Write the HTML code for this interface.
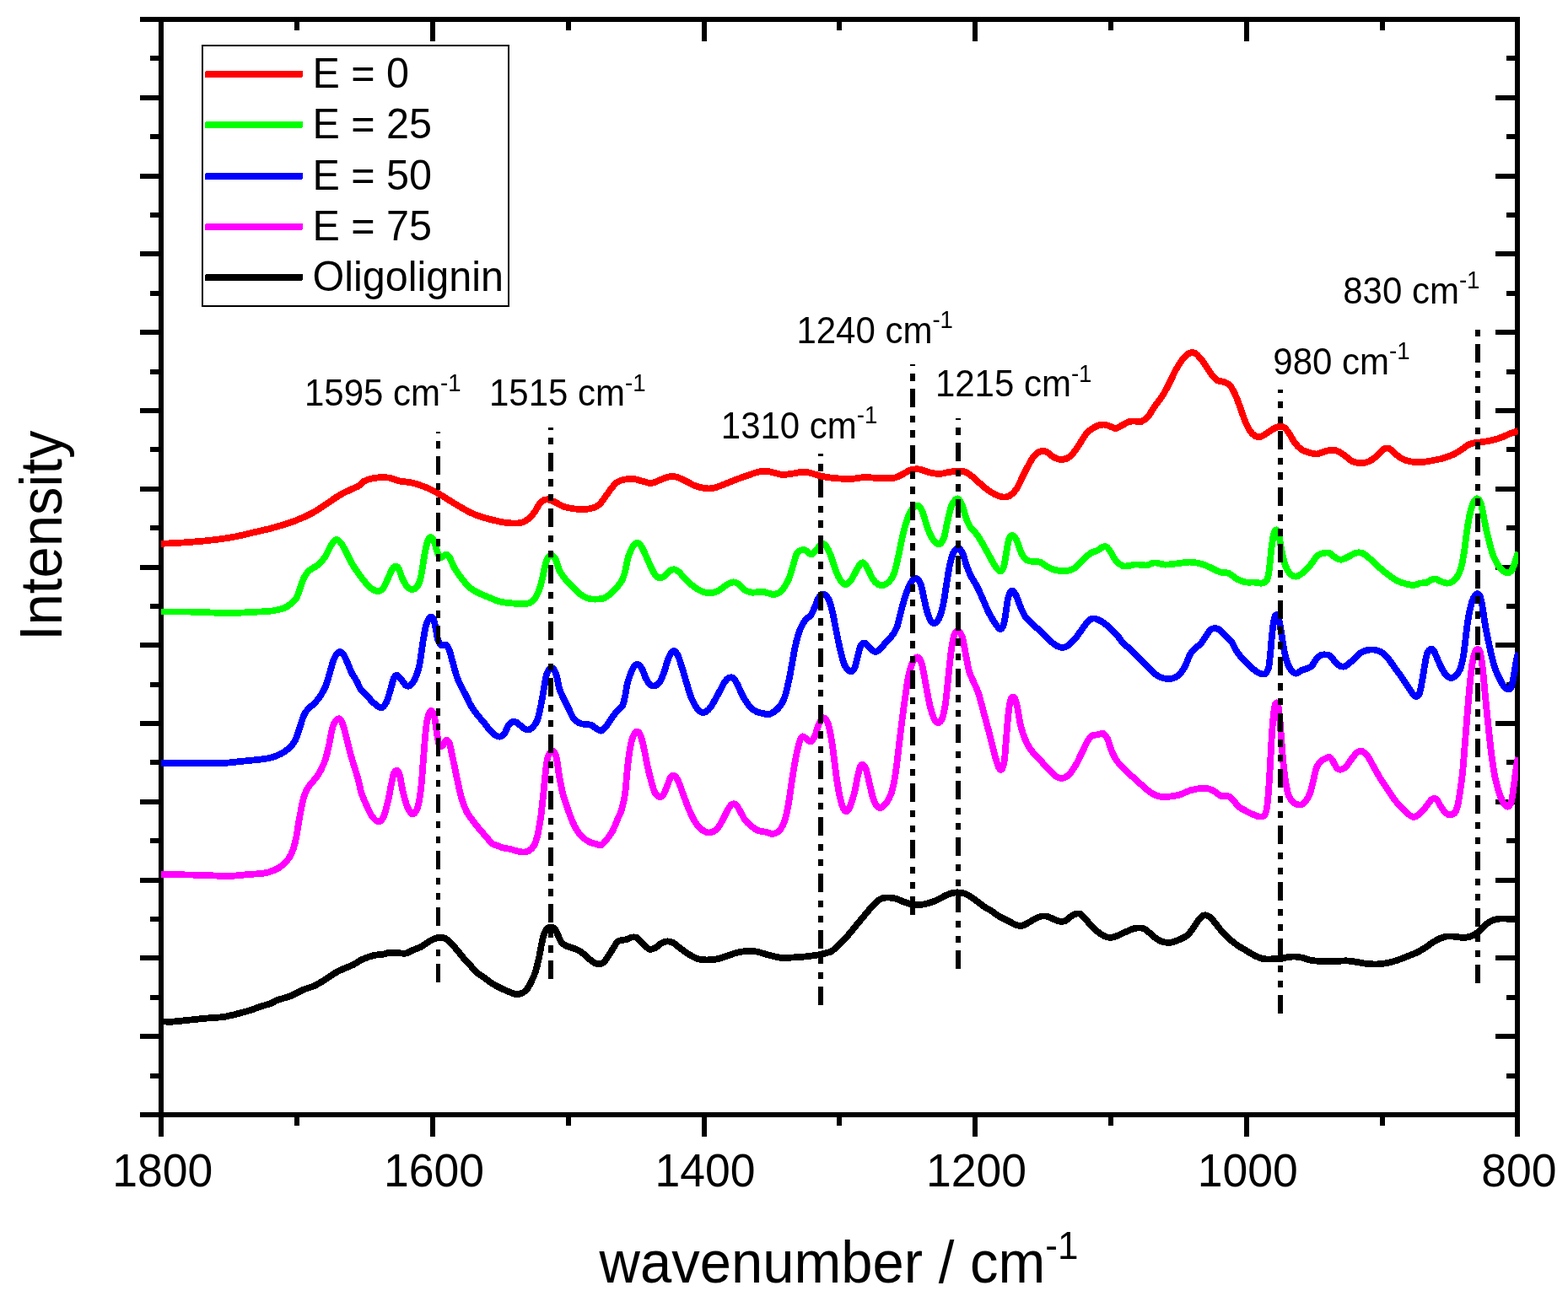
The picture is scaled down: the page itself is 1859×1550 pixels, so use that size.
<!DOCTYPE html>
<html lang="en">
<head>
<meta charset="utf-8">
<title>Raman spectra</title>
<style>
html,body{margin:0;padding:0;background:#fff;}
body{width:1859px;height:1550px;overflow:hidden;}
svg{display:block;}
text{font-family:"Liberation Sans",sans-serif;}
</style>
</head>
<body>
<svg width="1859" height="1550" viewBox="0 0 1859 1550" font-family="'Liberation Sans', sans-serif" fill="#000">
<g fill="#000" shape-rendering="crispEdges">
<rect x="166" y="20" width="1636" height="6"/>
<rect x="166" y="1319" width="1636" height="6"/>
<rect x="188" y="20" width="6" height="1328"/>
<rect x="1796" y="20" width="6" height="1328"/>
<rect x="349" y="1322" width="6" height="13"/>
<rect x="349" y="23" width="6" height="13"/>
<rect x="510" y="1322" width="6" height="26"/>
<rect x="510" y="23" width="6" height="26"/>
<rect x="671" y="1322" width="6" height="13"/>
<rect x="671" y="23" width="6" height="13"/>
<rect x="832" y="1322" width="6" height="26"/>
<rect x="832" y="23" width="6" height="26"/>
<rect x="992" y="1322" width="6" height="13"/>
<rect x="992" y="23" width="6" height="13"/>
<rect x="1153" y="1322" width="6" height="26"/>
<rect x="1153" y="23" width="6" height="26"/>
<rect x="1314" y="1322" width="6" height="13"/>
<rect x="1314" y="23" width="6" height="13"/>
<rect x="1475" y="1322" width="6" height="26"/>
<rect x="1475" y="23" width="6" height="26"/>
<rect x="1636" y="1322" width="6" height="13"/>
<rect x="1636" y="23" width="6" height="13"/>
<rect x="178" y="66" width="13" height="6"/>
<rect x="1786" y="66" width="13" height="6"/>
<rect x="166" y="113" width="25" height="6"/>
<rect x="1773" y="113" width="26" height="6"/>
<rect x="178" y="159" width="13" height="6"/>
<rect x="1786" y="159" width="13" height="6"/>
<rect x="166" y="206" width="25" height="6"/>
<rect x="1773" y="206" width="26" height="6"/>
<rect x="178" y="252" width="13" height="6"/>
<rect x="1786" y="252" width="13" height="6"/>
<rect x="166" y="298" width="25" height="6"/>
<rect x="1773" y="298" width="26" height="6"/>
<rect x="178" y="345" width="13" height="6"/>
<rect x="1786" y="345" width="13" height="6"/>
<rect x="166" y="391" width="25" height="6"/>
<rect x="1773" y="391" width="26" height="6"/>
<rect x="178" y="438" width="13" height="6"/>
<rect x="1786" y="438" width="13" height="6"/>
<rect x="166" y="484" width="25" height="6"/>
<rect x="1773" y="484" width="26" height="6"/>
<rect x="178" y="530" width="13" height="6"/>
<rect x="1786" y="530" width="13" height="6"/>
<rect x="166" y="577" width="25" height="6"/>
<rect x="1773" y="577" width="26" height="6"/>
<rect x="178" y="623" width="13" height="6"/>
<rect x="1786" y="623" width="13" height="6"/>
<rect x="166" y="670" width="25" height="6"/>
<rect x="1773" y="670" width="26" height="6"/>
<rect x="178" y="716" width="13" height="6"/>
<rect x="1786" y="716" width="13" height="6"/>
<rect x="166" y="762" width="25" height="6"/>
<rect x="1773" y="762" width="26" height="6"/>
<rect x="178" y="809" width="13" height="6"/>
<rect x="1786" y="809" width="13" height="6"/>
<rect x="166" y="855" width="25" height="6"/>
<rect x="1773" y="855" width="26" height="6"/>
<rect x="178" y="901" width="13" height="6"/>
<rect x="1786" y="901" width="13" height="6"/>
<rect x="166" y="948" width="25" height="6"/>
<rect x="1773" y="948" width="26" height="6"/>
<rect x="178" y="994" width="13" height="6"/>
<rect x="1786" y="994" width="13" height="6"/>
<rect x="166" y="1041" width="25" height="6"/>
<rect x="1773" y="1041" width="26" height="6"/>
<rect x="178" y="1087" width="13" height="6"/>
<rect x="1786" y="1087" width="13" height="6"/>
<rect x="166" y="1133" width="25" height="6"/>
<rect x="1773" y="1133" width="26" height="6"/>
<rect x="178" y="1180" width="13" height="6"/>
<rect x="1786" y="1180" width="13" height="6"/>
<rect x="166" y="1226" width="25" height="6"/>
<rect x="1773" y="1226" width="26" height="6"/>
<rect x="178" y="1273" width="13" height="6"/>
<rect x="1786" y="1273" width="13" height="6"/>
</g>
<defs><clipPath id="plot"><rect x="191" y="0" width="1609" height="1550"/></clipPath></defs>
<g fill="none" stroke-width="7.8" stroke-linejoin="round" stroke-linecap="butt" clip-path="url(#plot)" shape-rendering="crispEdges">
<path stroke="#000" d="M191 1211.4C193.3 1211.4 199.3 1211.9 205 1211.6C210.7 1211.3 218.3 1210.3 225 1209.6C231.7 1208.9 238.3 1208.2 245 1207.6C251.7 1207 259 1206.9 265 1206C271 1205.1 275.7 1203.7 281 1202.4C286.3 1201.1 292.3 1199.5 297 1198C301.7 1196.5 305 1194.9 309 1193.6C313 1192.3 317.7 1191.3 321 1190C324.3 1188.7 325 1187.5 329 1186C333 1184.5 340 1183 345 1181C350 1179 354.3 1176 359 1174C363.7 1172 368.7 1171 373 1169C377.3 1167 381 1164.5 385 1162C389 1159.5 393.3 1156.2 397 1154C400.7 1151.8 403.3 1150.7 407 1149C410.7 1147.3 415.3 1145.8 419 1144C422.7 1142.2 425 1139.8 429 1138C433 1136.2 439 1134 443 1133C447 1132 450 1132.5 453 1132C456 1131.5 458 1130.3 461 1130C464 1129.7 467.7 1129.9 471 1130C474.3 1130.1 478 1131.1 481 1130.6C484 1130.1 486 1128.3 489 1127C492 1125.7 496 1124.6 499 1123C502 1121.4 504.3 1119.2 507 1117.6C509.7 1116 512.5 1114.3 515 1113.4C517.5 1112.5 519.8 1112.1 522 1112C524.2 1111.9 525.8 1111.8 528 1113C530.2 1114.2 532.5 1116.5 535 1119C537.5 1121.5 540.3 1124.8 543 1128C545.7 1131.2 548.7 1135.3 551 1138C553.3 1140.7 554.5 1141.5 556.8 1144C559.1 1146.5 562 1150.3 565 1153C568 1155.7 572 1157.8 575 1160C578 1162.2 580 1164.1 583 1166C586 1167.9 589.7 1169.9 593 1171.6C596.3 1173.3 600 1174.8 603 1176C606 1177.2 608.7 1178.6 611 1179C613.3 1179.4 614.8 1179.4 617 1178.6C619.2 1177.8 621.8 1176.4 624 1174C626.2 1171.6 628.2 1167.7 630 1164C631.8 1160.3 633.5 1156.7 635 1152C636.5 1147.3 637.8 1141.3 639 1136C640.2 1130.7 641 1124.7 642 1120C643 1115.3 643.8 1111.2 645 1108C646.2 1104.8 647.5 1102.4 649 1101C650.5 1099.6 652.5 1099.4 654 1099.6C655.5 1099.8 656.7 1100.3 658 1102C659.3 1103.7 660.7 1107.3 662 1110C663.3 1112.7 664.3 1116 666 1118C667.7 1120 669.5 1120.8 672 1122C674.5 1123.2 678.2 1123.8 681 1125C683.8 1126.2 686.3 1127.2 689 1129C691.7 1130.8 694.3 1133.8 697 1136C699.7 1138.2 702.5 1140.8 705 1142C707.5 1143.2 710 1143.3 712 1143C714 1142.7 715.2 1142 717 1140C718.8 1138 721.2 1133.8 723 1131C724.8 1128.2 726.5 1125.3 728 1123C729.5 1120.7 730.5 1118.3 732 1117C733.5 1115.7 735.2 1115.5 737 1115C738.8 1114.5 741 1114.6 743 1114C745 1113.4 747 1111.9 749 1111.6C751 1111.3 753.2 1111.1 755 1112C756.8 1112.9 758.2 1115.2 760 1117C761.8 1118.8 764.2 1121.5 766 1123C767.8 1124.5 769.2 1125.8 771 1126C772.8 1126.2 774.8 1125.2 777 1124C779.2 1122.8 781.7 1119.9 784 1118.6C786.3 1117.3 788.7 1116.5 791 1116.4C793.3 1116.3 795.3 1116.6 798 1118C800.7 1119.4 803.8 1122.7 807 1125C810.2 1127.3 813.7 1130 817 1132C820.3 1134 823.7 1135.9 827 1137C830.3 1138.1 833.3 1138.3 837 1138.4C840.7 1138.5 845 1138.3 849 1137.6C853 1136.9 857 1135.3 861 1134C865 1132.7 869 1131 873 1130C877 1129 881 1128.2 885 1128C889 1127.8 893 1127.9 897 1128.6C901 1129.3 905 1130.9 909 1132C913 1133.1 917.7 1134.3 921 1135C924.3 1135.7 925.5 1135.9 928.8 1136C932.1 1136.1 936.6 1135.7 941 1135.4C945.4 1135.1 950.3 1134.9 955 1134.4C959.7 1133.9 965 1133.3 969 1132.6C973 1131.9 976.2 1131.2 979 1130.4C981.8 1129.6 983.7 1129.4 986 1128C988.3 1126.6 990.2 1124.7 993 1122C995.8 1119.3 999.7 1115.7 1003 1112C1006.3 1108.3 1009.7 1104 1013 1100C1016.3 1096 1019.7 1092 1023 1088C1026.3 1084 1030 1079.3 1033 1076C1036 1072.7 1038.7 1069.8 1041 1068C1043.3 1066.2 1044.7 1065.6 1047 1065C1049.3 1064.4 1052.3 1064.4 1055 1064.6C1057.7 1064.8 1060.3 1065.2 1063 1066C1065.7 1066.8 1068 1068.3 1071 1069.4C1074 1070.5 1077.7 1071.8 1081 1072.4C1084.3 1073 1087.7 1073.2 1091 1073C1094.3 1072.8 1097.7 1071.9 1101 1071C1104.3 1070.1 1107.7 1068.9 1111 1067.4C1114.3 1065.9 1118 1063.4 1121 1062C1124 1060.6 1126.5 1059.6 1129 1059C1131.5 1058.4 1133.7 1058.3 1136 1058.4C1138.3 1058.5 1140.5 1058.5 1143 1059.4C1145.5 1060.3 1148.3 1061.9 1151 1063.6C1153.7 1065.3 1156.3 1067.4 1159 1069.4C1161.7 1071.4 1164.3 1073.6 1167 1075.4C1169.7 1077.2 1172 1078.1 1175 1080C1178 1081.9 1181.7 1085 1185 1087C1188.3 1089 1191.7 1090.3 1195 1092C1198.3 1093.7 1202.3 1096 1205 1097C1207.7 1098 1208.8 1098.3 1211 1098C1213.2 1097.7 1215.3 1096.4 1218 1095C1220.7 1093.6 1224.2 1091 1227 1089.6C1229.8 1088.2 1232.5 1087 1235 1086.6C1237.5 1086.2 1239.7 1086.4 1242 1087C1244.3 1087.6 1246.7 1089.1 1249 1090C1251.3 1090.9 1253.7 1092.3 1256 1092.6C1258.3 1092.9 1260.8 1092.9 1263 1092C1265.2 1091.1 1267 1088.7 1269 1087.4C1271 1086.1 1273 1084.6 1275 1084C1277 1083.4 1279 1083 1281 1084C1283 1085 1285 1087.8 1287 1090C1289 1092.2 1290.7 1094.6 1293 1097C1295.3 1099.4 1298.1 1102.2 1300.8 1104.4C1303.5 1106.6 1306.3 1108.7 1309 1110C1311.7 1111.3 1314.3 1112.1 1317 1112C1319.7 1111.9 1322 1110.8 1325 1109.6C1328 1108.4 1331.7 1106.4 1335 1105C1338.3 1103.6 1342 1101.7 1345 1101C1348 1100.3 1350.7 1100.3 1353 1100.6C1355.3 1100.9 1356.7 1101.4 1359 1103C1361.3 1104.6 1364.2 1107.8 1367 1110C1369.8 1112.2 1373 1114.7 1376 1116C1379 1117.3 1382.2 1117.9 1385 1118C1387.8 1118.1 1390.3 1117.2 1393 1116.4C1395.7 1115.6 1398.5 1114.2 1401 1113C1403.5 1111.8 1405.7 1111.2 1408 1109C1410.3 1106.8 1412.8 1103 1415 1100C1417.2 1097 1419.2 1093.3 1421 1091C1422.8 1088.7 1424.5 1086.9 1426 1086C1427.5 1085.1 1428.5 1085.1 1430 1085.4C1431.5 1085.7 1433.2 1086.4 1435 1088C1436.8 1089.6 1438.7 1092.2 1441 1095C1443.3 1097.8 1446.3 1102 1449 1105C1451.7 1108 1454 1110.3 1457 1113C1460 1115.7 1463.7 1118.7 1467 1121C1470.3 1123.3 1473.7 1125 1477 1127C1480.3 1129 1483.7 1131.3 1487 1133C1490.3 1134.7 1493.7 1136.3 1497 1137C1500.3 1137.7 1503.5 1137.4 1507 1137.4C1510.5 1137.4 1514.7 1137.4 1518 1137C1521.3 1136.6 1524 1135.4 1527 1135C1530 1134.6 1533 1134.4 1536 1134.6C1539 1134.8 1541.8 1135.3 1545 1136C1548.2 1136.7 1551 1138.3 1555 1139C1559 1139.7 1564.3 1139.8 1569 1140C1573.7 1140.2 1578.3 1140.1 1583 1140C1587.7 1139.9 1592.7 1139.2 1597 1139.4C1601.3 1139.6 1605 1140.4 1609 1141C1613 1141.6 1617 1142.6 1621 1143C1625 1143.4 1629 1143.6 1633 1143.4C1637 1143.2 1641 1142.8 1645 1142C1649 1141.2 1653 1139.9 1657 1138.6C1661 1137.3 1665 1135.6 1669 1134C1673 1132.4 1677.3 1130.8 1681 1129C1684.7 1127.2 1688 1124.9 1691 1123C1694 1121.1 1696.3 1119.1 1699 1117.4C1701.7 1115.7 1704.3 1114.1 1707 1113C1709.7 1111.9 1712.3 1111 1715 1110.6C1717.7 1110.2 1720.3 1110.4 1723 1110.6C1725.7 1110.8 1728.3 1111.4 1731 1111.6C1733.7 1111.8 1736.3 1112 1739 1111.6C1741.7 1111.2 1744.7 1110.1 1747 1109C1749.3 1107.9 1750.8 1106.8 1753 1105C1755.2 1103.2 1757.7 1100.1 1760 1098C1762.3 1095.9 1764.5 1093.9 1767 1092.6C1769.5 1091.3 1772.3 1090.5 1775 1090C1777.7 1089.5 1780.3 1089.4 1783 1089.4C1785.7 1089.4 1788.2 1090 1791 1090C1793.8 1090 1798.5 1089.5 1800 1089.4"/>
<path stroke="#f0f" d="M191 1036.6C195.7 1036.7 210 1037.2 219 1037.4C228 1037.6 236.3 1037.7 245 1038C253.7 1038.3 262.7 1039.2 271 1039C279.3 1038.8 288 1037.6 295 1037C302 1036.4 308 1036.4 313 1035.6C318 1034.8 321.3 1033.6 325 1032C328.7 1030.4 332 1028.5 335 1026C338 1023.5 340.8 1020.3 343 1017C345.2 1013.7 346.6 1010.2 348 1006C349.4 1001.8 350.4 997 351.4 992C352.4 987 353.1 981.3 354 976C354.9 970.7 356 965 357 960C358 955 358.8 950 360 946C361.2 942 362.5 938.8 364 936C365.5 933.2 367.2 931.3 369 929C370.8 926.7 373 924.8 375 922C377 919.2 379.2 915.7 381 912C382.8 908.3 384.5 904.7 386 900C387.5 895.3 388.8 889.3 390 884C391.2 878.7 392 872.3 393 868C394 863.7 394.8 860.5 396 858C397.2 855.5 398.7 853.7 400 853C401.3 852.3 402.7 851.8 404 853.6C405.3 855.4 406.7 859.6 408 864C409.3 868.4 410.7 874.7 412 880C413.3 885.3 414.5 890.7 416 896C417.5 901.3 419.5 907 421 912C422.5 917 423.7 921 425 926C426.3 931 427.3 937 429 942C430.7 947 433 951.7 435 956C437 960.3 438.7 964.9 441 968C443.3 971.1 446.7 974.4 449 974.4C451.3 974.4 453.2 972.1 455 968C456.8 963.9 458.5 956.3 460 950C461.5 943.7 462.8 935.5 464 930C465.2 924.5 465.8 919.7 467 917C468.2 914.3 469.8 913.5 471 914C472.2 914.5 472.8 915.7 474 920C475.2 924.3 476.5 933.8 478 940C479.5 946.2 481.2 952.8 483 957C484.8 961.2 487 965.2 489 965.4C491 965.6 493.3 962.9 495 958C496.7 953.1 497.8 945.7 499 936C500.2 926.3 501 912 502 900C503 888 504 872.7 505 864C506 855.3 506.9 851.5 508 848C509.1 844.5 510.2 842.7 511.4 843C512.6 843.3 513.9 845.5 515 850C516.1 854.5 517 864.3 518 870C519 875.7 519.8 881.7 521 884C522.2 886.3 523.7 885 525 884C526.3 883 527.7 878.3 529 878C530.3 877.7 531.7 878.3 533 882C534.3 885.7 535.5 893 537 900C538.5 907 540.3 916.3 542 924C543.7 931.7 545.2 939.7 547 946C548.8 952.3 550.7 957.3 553 962C555.3 966.7 558.3 970.3 561 974C563.7 977.7 566.3 980.8 569 984C571.7 987.2 574.7 990.3 577 993C579.3 995.7 580.8 998.3 583 1000C585.2 1001.7 587.7 1002.1 590 1003C592.3 1003.9 594.5 1004.9 597 1005.6C599.5 1006.3 602.3 1006.4 605 1007C607.7 1007.6 610.3 1008.8 613 1009.4C615.7 1010 618.7 1010.7 621 1010.6C623.3 1010.5 625 1010.3 627 1009C629 1007.7 631.3 1005.8 633 1003C634.7 1000.2 635.7 997.5 637 992C638.3 986.5 639.8 978 641 970C642.2 962 643 953.3 644 944C645 934.7 646.1 921.7 647 914C647.9 906.3 648.4 901.7 649.4 898C650.4 894.3 651.7 893.1 653 892C654.3 890.9 655.8 890.3 657 891.6C658.2 892.9 659 895.3 660 900C661 904.7 661.8 913.3 663 920C664.2 926.7 665.5 934 667 940C668.5 946 670.3 951 672 956C673.7 961 675.2 965.5 677 970C678.8 974.5 680.7 979.2 683 983C685.3 986.8 688.3 990.4 691 993C693.7 995.6 696.3 997.3 699 998.6C701.7 999.9 704.7 1000.4 707 1001C709.3 1001.6 711 1002.8 713 1002C715 1001.2 716.8 998.7 719 996C721.2 993.3 723.8 990 726 986C728.2 982 730.2 976.3 732 972C733.8 967.7 735.5 965 737 960C738.5 955 739.9 949.3 741 942C742.1 934.7 742.6 924 743.4 916C744.2 908 745.1 900.3 746 894C746.9 887.7 747.9 882.1 749 878C750.1 873.9 751.3 871.3 752.6 869.6C753.9 867.9 755.4 867.3 756.6 868C757.8 868.7 758.8 870.3 760 874C761.2 877.7 762.7 884 764 890C765.3 896 766.7 904 768 910C769.3 916 770.7 921.2 772 926C773.3 930.8 774.5 935.9 776 939C777.5 942.1 779.3 943.9 781 944.6C782.7 945.3 784.3 945.1 786 943C787.7 940.9 789.5 935.5 791 932C792.5 928.5 793.6 924 795 922C796.4 920 797.9 919.3 799.4 920C800.9 920.7 802.2 922.3 804 926C805.8 929.7 808 936.7 810 942C812 947.3 813.8 952.8 816 958C818.2 963.2 820.5 968.8 823 973C825.5 977.2 828.2 980.6 831 983C833.8 985.4 837 987.2 840 987.4C843 987.6 846.3 986.2 849 984C851.7 981.8 853.8 977.7 856 974C858.2 970.3 860.2 965.3 862 962C863.8 958.7 865.3 955.7 867 954.4C868.7 953.1 870.3 952.9 872 954C873.7 955.1 875.2 958 877 961C878.8 964 880.7 968.8 883 972C885.3 975.2 888.3 977.8 891 980C893.7 982.2 896 983.8 899 985C902 986.2 906.1 986.3 909 987C911.9 987.7 913.8 989.5 916.5 989C919.2 988.5 922.6 986.9 925 983.9C927.4 980.9 929.3 976.6 931 971C932.7 965.4 933.9 958 935.3 950.3C936.6 942.5 937.8 932.7 939.1 924.5C940.4 916.3 941.7 908.2 943 901.3C944.3 894.4 945.6 887.8 946.9 883.2C948.2 878.6 949.5 874.8 951 873.6C952.5 872.4 954.3 875 956 876C957.7 877 959.3 880.1 961 879.6C962.7 879.1 964.5 876.1 966 873C967.5 869.9 968.7 864.3 970 861C971.3 857.7 972.7 854.5 974 853C975.3 851.5 976.7 851 978 852C979.3 853 980.7 854.7 982 859C983.3 863.3 984.8 871.2 986 878C987.2 884.8 988 892.3 989 900C990 907.7 990.8 916.3 992 924C993.2 931.7 994.7 940.2 996 946C997.3 951.8 998.7 956.3 1000 959C1001.3 961.7 1002.7 962.5 1004 962C1005.3 961.5 1006.5 959.7 1008 956C1009.5 952.3 1011.5 946 1013 940C1014.5 934 1015.8 925.2 1017 920C1018.2 914.8 1019 911.2 1020 909C1021 906.8 1021.8 906.3 1023 907C1024.2 907.7 1025.7 909.2 1027 913C1028.3 916.8 1029.7 924.5 1031 930C1032.3 935.5 1033.7 941.8 1035 946C1036.3 950.2 1037.5 953 1039 955C1040.5 957 1042 958.5 1044 958C1046 957.5 1048.8 955 1051 952C1053.2 949 1055.3 945 1057 940C1058.7 935 1059.8 928.7 1061 922C1062.2 915.3 1063 908 1064 900C1065 892 1066 882.3 1067 874C1068 865.7 1069 857.7 1070 850C1071 842.3 1071.8 836 1073 828C1074.2 820 1075.7 808.7 1077 802C1078.3 795.3 1079.7 791.5 1081 788C1082.3 784.5 1083.7 782.3 1085 781C1086.3 779.7 1087.7 778.8 1089 780C1090.3 781.2 1091.7 783.3 1093 788C1094.3 792.7 1095.7 801 1097 808C1098.3 815 1099.7 823.7 1101 830C1102.3 836.3 1103.7 841.8 1105 846C1106.3 850.2 1107.7 853.2 1109 855C1110.3 856.8 1111.7 857.5 1113 857C1114.3 856.5 1115.7 855.8 1117 852C1118.3 848.2 1119.8 841.7 1121 834C1122.2 826.3 1123 815.3 1124 806C1125 796.7 1126 786 1127 778C1128 770 1129 762.7 1130 758C1131 753.3 1131.8 751.5 1133 750C1134.2 748.5 1135.7 748 1137 749C1138.3 750 1139.7 751.5 1141 756C1142.3 760.5 1143.7 769.3 1145 776C1146.3 782.7 1147.5 790.7 1149 796C1150.5 801.3 1152.2 803.7 1154 808C1155.8 812.3 1158 816 1160 822C1162 828 1163.8 836 1166 844C1168.2 852 1170.8 861.7 1173 870C1175.2 878.3 1177.2 887.3 1179 894C1180.8 900.7 1182.5 907 1184 910C1185.5 913 1186.8 913.7 1188 912C1189.2 910.3 1190.2 906 1191 900C1191.8 894 1192.2 885.7 1193 876C1193.8 866.3 1195 850 1196 842C1197 834 1197.8 830.3 1199 828C1200.2 825.7 1201.8 826.3 1203 828C1204.2 829.7 1204.8 832.7 1206 838C1207.2 843.3 1208.5 853.7 1210 860C1211.5 866.3 1213 871.2 1215 876C1217 880.8 1219.3 885.2 1222 889C1224.7 892.8 1227.8 895.5 1231 899C1234.2 902.5 1237.7 906.5 1241 910C1244.3 913.5 1248 917.8 1251 920C1254 922.2 1256.3 923.2 1259 923C1261.7 922.8 1264.3 921.5 1267 919C1269.7 916.5 1272.3 912.5 1275 908C1277.7 903.5 1280.5 897 1283 892C1285.5 887 1288 881.3 1290 878C1292 874.7 1293.2 873.5 1295 872.4C1296.8 871.3 1298.6 871.8 1300.8 871.4C1303 871 1306 869.2 1308 870C1310 870.8 1311.5 873 1313 876C1314.5 879 1315.5 884.2 1317 888C1318.5 891.8 1320.2 895.8 1322 899C1323.8 902.2 1325.5 904.2 1328 907C1330.5 909.8 1333.8 913 1337 916C1340.2 919 1343.7 922 1347 925C1350.3 928 1353.7 931.2 1357 934C1360.3 936.8 1363.7 939.8 1367 941.6C1370.3 943.4 1373.7 944.5 1377 945C1380.3 945.5 1383.3 945 1387 944.6C1390.7 944.2 1395 943.6 1399 942.4C1403 941.2 1407 938.6 1411 937.4C1415 936.2 1419.7 935.4 1423 935C1426.3 934.6 1428.3 934.5 1431 935C1433.7 935.5 1436.2 936.5 1439 938C1441.8 939.5 1445 942.9 1448 944C1451 945.1 1454.5 943.4 1457 944.4C1459.5 945.4 1461 947.9 1463 950C1465 952.1 1466.7 955.1 1469 957C1471.3 958.9 1474.3 960.2 1477 961.6C1479.7 963 1482.3 964.5 1485 965.6C1487.7 966.7 1490.7 968.2 1493 968.4C1495.3 968.6 1497.5 968.7 1499 967C1500.5 965.3 1501.2 962.8 1502 958C1502.8 953.2 1503.3 946.7 1504 938C1504.7 929.3 1505.3 917.3 1506 906C1506.7 894.7 1507.3 880 1508 870C1508.7 860 1509.3 851.8 1510 846C1510.7 840.2 1511.2 836.8 1512 835C1512.8 833.2 1514.2 832.5 1515 835C1515.8 837.5 1516.3 843.5 1517 850C1517.7 856.5 1518.3 865.7 1519 874C1519.7 882.3 1520.2 891.3 1521 900C1521.8 908.7 1522.8 918.7 1524 926C1525.2 933.3 1526.3 939.7 1528 944C1529.7 948.3 1531.7 950.3 1534 952C1536.3 953.7 1539.7 954.7 1542 954.4C1544.3 954.1 1546.2 952.2 1548 950C1549.8 947.8 1551.5 945 1553 941C1554.5 937 1555.7 931.2 1557 926C1558.3 920.8 1559.5 913.8 1561 910C1562.5 906.2 1564.3 904.7 1566 903C1567.7 901.3 1569.3 900.4 1571 899.6C1572.7 898.8 1574.5 897.6 1576 898C1577.5 898.4 1578.5 899.8 1580 902C1581.5 904.2 1583.3 909.2 1585 911C1586.7 912.8 1588.2 912.9 1590 912.6C1591.8 912.3 1593.7 911.4 1596 909C1598.3 906.6 1601.7 900.9 1604 898C1606.3 895.1 1608.2 892.8 1610 891.6C1611.8 890.4 1613.2 890.3 1615 891C1616.8 891.7 1618.7 892.8 1621 896C1623.3 899.2 1626.3 905.3 1629 910C1631.7 914.7 1634.3 919.7 1637 924C1639.7 928.3 1642.3 932 1645 936C1647.7 940 1650.3 944.5 1653 948C1655.7 951.5 1658.3 954.2 1661 957C1663.7 959.8 1666.5 963 1669 965C1671.5 967 1673.8 968.8 1676 969C1678.2 969.2 1679.8 967.7 1682 966C1684.2 964.3 1687 961.3 1689 959C1691 956.7 1692.5 953.9 1694 952C1695.5 950.1 1696.5 948.3 1698 947.6C1699.5 946.9 1701.3 946.6 1703 948C1704.7 949.4 1706.2 953.3 1708 956C1709.8 958.7 1712 962.3 1714 964C1716 965.7 1718 966.7 1720 966.4C1722 966.1 1724.3 965.4 1726 962C1727.7 958.6 1728.7 953.7 1730 946C1731.3 938.3 1732.8 927 1734 916C1735.2 905 1736 892.3 1737 880C1738 867.7 1739 854 1740 842C1741 830 1742 817.7 1743 808C1744 798.3 1745 789.8 1746 784C1747 778.2 1748 775.3 1749 773C1750 770.7 1751 769.8 1752 770C1753 770.2 1754 770 1755 774C1756 778 1757 785.3 1758 794C1759 802.7 1759.8 814 1761 826C1762.2 838 1763.7 853.7 1765 866C1766.3 878.3 1767.7 890.3 1769 900C1770.3 909.7 1771.5 917 1773 924C1774.5 931 1776.3 937.2 1778 942C1779.7 946.8 1781.3 950.6 1783 953C1784.7 955.4 1786.5 957.1 1788 956.6C1789.5 956.1 1790.8 954.4 1792 950C1793.2 945.6 1794 937 1795 930C1796 923 1797.2 913.3 1798 908C1798.8 902.7 1799.7 899.7 1800 898"/>
<path stroke="#00f" d="M191 905C195 905.1 206 905.4 215 905.4C224 905.4 236.7 905.1 245 905C253.3 904.9 258.3 905.3 265 905C271.7 904.7 278.3 903.7 285 903C291.7 902.3 299 901.7 305 901C311 900.3 316.3 899.8 321 898.6C325.7 897.4 329.3 895.9 333 894C336.7 892.1 340.2 889.7 343 887C345.8 884.3 348 881.8 350 878C352 874.2 353.3 868.8 355 864C356.7 859.2 358.3 852.8 360 849C361.7 845.2 362.8 843.5 365 841C367.2 838.5 370.5 836.7 373 834C375.5 831.3 377.8 828.3 380 825C382.2 821.7 384.2 818.5 386 814C387.8 809.5 389.5 803 391 798C392.5 793 393.7 787.7 395 784C396.3 780.3 397.7 777.8 399 776C400.3 774.2 401.7 773 403 773C404.3 773 405.5 773.8 407 776C408.5 778.2 410.3 782.3 412 786C413.7 789.7 415.2 794.3 417 798C418.8 801.7 421.2 804.7 423 808C424.8 811.3 426 815.2 428 818C430 820.8 432.5 822.4 435 825C437.5 827.6 440.2 831.2 443 833.6C445.8 836 449.5 839.5 452 839.4C454.5 839.3 456.2 836.6 458 833C459.8 829.4 461.5 822.8 463 818C464.5 813.2 465.7 806.8 467 804C468.3 801.2 469.5 800.7 471 801C472.5 801.3 474.3 804.1 476 806C477.7 807.9 479.3 811.4 481 812.6C482.7 813.8 484.2 814.3 486 813C487.8 811.7 490.2 808.8 492 805C493.8 801.2 495.5 796.8 497 790C498.5 783.2 499.7 772 501 764C502.3 756 503.7 747.2 505 742C506.3 736.8 507.7 734.6 509 733C510.3 731.4 511.8 730.9 513 732.4C514.2 733.9 515 737.7 516 742C517 746.3 517.8 754.2 519 758C520.2 761.8 521.3 763.8 523 765C524.7 766.2 527.3 763.8 529 765C530.7 766.2 531.5 767.8 533 772C534.5 776.2 536.3 784.3 538 790C539.7 795.7 540.5 800 543 806C545.5 812 550.3 820.7 553 826C555.7 831.3 556.7 834.2 559 838C561.3 841.8 564.7 846 567 849C569.3 852 570.8 853.3 573 856C575.2 858.7 577.7 862.4 580 865C582.3 867.6 584.8 870.2 587 871.6C589.2 873 591.2 873.9 593 873.6C594.8 873.3 596.3 872.3 598 870C599.7 867.7 601.3 862.3 603 860C604.7 857.7 606.3 856.5 608 856C609.7 855.5 611 855.8 613 857C615 858.2 617.8 861.6 620 863C622.2 864.4 624 865.8 626 865.6C628 865.4 630.2 863.9 632 862C633.8 860.1 635.5 858 637 854C638.5 850 639.7 844.3 641 838C642.3 831.7 643.8 822.3 645 816C646.2 809.7 646.8 803.8 648 800C649.2 796.2 650.7 794.2 652 793C653.3 791.8 654.7 791.5 656 793C657.3 794.5 658.8 798.2 660 802C661.2 805.8 661.7 811.7 663 816C664.3 820.3 666.2 824 668 828C669.8 832 672 836 674 840C676 844 677.8 849.1 680 852C682.2 854.9 684.5 856.4 687 857.6C689.5 858.8 692.7 858.6 695 859C697.3 859.4 699 859.2 701 860C703 860.8 705 862.9 707 864C709 865.1 711 867.1 713 866.6C715 866.1 716.7 863.9 719 861C721.3 858.1 724.7 852.2 727 849C729.3 845.8 731.2 844 733 842C734.8 840 736.7 839.7 738 837C739.3 834.3 740 830.5 741 826C742 821.5 742.8 814.7 744 810C745.2 805.3 746.7 801.3 748 798C749.3 794.7 750.7 791.7 752 790C753.3 788.3 754.5 787.5 756 788C757.5 788.5 759.3 790.2 761 793C762.7 795.8 764.3 801.8 766 805C767.7 808.2 769.3 810.6 771 812C772.7 813.4 774.2 813.9 776 813.4C777.8 812.9 780.2 811.6 782 809C783.8 806.4 785.3 802.5 787 798C788.7 793.5 790.5 786 792 782C793.5 778 794.7 775.6 796 774C797.3 772.4 798.7 771.7 800 772.4C801.3 773.1 802.5 774.6 804 778C805.5 781.4 807.3 787.7 809 793C810.7 798.3 812.3 804.5 814 810C815.7 815.5 817.2 821.3 819 826C820.8 830.7 823 834.9 825 838C827 841.1 829 843.4 831 844.4C833 845.4 835 845.1 837 844C839 842.9 840.7 841.3 843 838C845.3 834.7 848.3 828.8 851 824C853.7 819.2 856.8 812.3 859 809C861.2 805.7 862.3 804.8 864 804C865.7 803.2 867.3 802.8 869 804C870.7 805.2 872 807.3 874 811C876 814.7 878.5 821.5 881 826C883.5 830.5 886.3 835 889 838C891.7 841 894.3 842.7 897 844C899.7 845.3 902.4 845.5 905 846C907.6 846.5 909.5 848.2 912.6 847C915.7 845.8 920.5 842.4 923.5 839C926.5 835.6 928.4 832 930.4 826.5C932.4 821 934 812.7 935.5 805.8C937 798.9 938.1 791.9 939.4 785C940.7 778.1 941.8 770.9 943.3 764.5C944.8 758.1 946.5 751.4 948.5 746.5C950.5 741.6 952.9 737.8 955 735C957.1 732.2 959.2 732.5 961 730C962.8 727.5 964.5 723.3 966 720C967.5 716.7 968.7 712.5 970 710C971.3 707.5 972.6 705.7 974 705C975.4 704.3 977.1 704.4 978.6 705.6C980.1 706.8 981.6 708.6 983 712C984.4 715.4 985.7 720.3 987 726C988.3 731.7 989.5 738.7 991 746C992.5 753.3 994.3 763 996 770C997.7 777 999.3 783.8 1001 788C1002.7 792.2 1004.5 793.7 1006 795C1007.5 796.3 1008.7 796.8 1010 796C1011.3 795.2 1012.7 793.7 1014 790C1015.3 786.3 1016.8 778.2 1018 774C1019.2 769.8 1019.7 766.8 1021 765C1022.3 763.2 1024.2 762.3 1026 763C1027.8 763.7 1030 767.3 1032 769C1034 770.7 1036 773 1038 773C1040 773 1041.8 771 1044 769C1046.2 767 1048.5 763.8 1051 761C1053.5 758.2 1056.8 755.2 1059 752C1061.2 748.8 1062.5 746.3 1064 742C1065.5 737.7 1066.5 731.7 1068 726C1069.5 720.3 1071.3 713.2 1073 708C1074.7 702.8 1076.3 698.5 1078 695C1079.7 691.5 1081.3 688.3 1083 687C1084.7 685.7 1086.5 685.8 1088 687C1089.5 688.2 1090.7 689.8 1092 694C1093.3 698.2 1094.7 706.3 1096 712C1097.3 717.7 1098.7 723.8 1100 728C1101.3 732.2 1102.7 735.2 1104 737C1105.3 738.8 1106.5 739.5 1108 739C1109.5 738.5 1111.3 737.5 1113 734C1114.7 730.5 1116.5 724.7 1118 718C1119.5 711.3 1120.7 702 1122 694C1123.3 686 1124.7 676.3 1126 670C1127.3 663.7 1128.7 659.2 1130 656C1131.3 652.8 1132.7 651.8 1134 651C1135.3 650.2 1136.7 649.8 1138 651C1139.3 652.2 1140.7 654.7 1142 658C1143.3 661.3 1144.5 666.8 1146 671C1147.5 675.2 1149 679 1151 683C1153 687 1155.7 690.5 1158 695C1160.3 699.5 1162.7 704.8 1165 710C1167.3 715.2 1169.7 721.3 1172 726C1174.3 730.7 1176.8 734.7 1179 738C1181.2 741.3 1183.3 744.8 1185 745.6C1186.7 746.4 1187.8 745.6 1189 743C1190.2 740.4 1191 735.5 1192 730C1193 724.5 1194 714.7 1195 710C1196 705.3 1197 703.5 1198 702C1199 700.5 1199.8 700.2 1201 701C1202.2 701.8 1203.5 703.8 1205 707C1206.5 710.2 1208.2 715.8 1210 720C1211.8 724.2 1213.5 728.5 1216 732C1218.5 735.5 1221.8 738 1225 741C1228.2 744 1231.7 746.8 1235 750C1238.3 753.2 1242 757.3 1245 760C1248 762.7 1250.5 764.7 1253 766C1255.5 767.3 1257.7 768.2 1260 768C1262.3 767.8 1264.5 766.8 1267 765C1269.5 763.2 1272.3 760.2 1275 757C1277.7 753.8 1280.5 749.3 1283 746C1285.5 742.7 1288 739.1 1290 737C1292 734.9 1293.2 734 1295 733.6C1296.8 733.2 1298.5 733.5 1300.8 734.4C1303.1 735.3 1306.3 737.1 1309 739C1311.7 740.9 1314.3 743.5 1317 746C1319.7 748.5 1322.7 751.3 1325 754C1327.3 756.7 1328.3 759.2 1331 762C1333.7 764.8 1337.7 767.8 1341 771C1344.3 774.2 1347.7 777.7 1351 781C1354.3 784.3 1358 788 1361 791C1364 794 1366.3 796.9 1369 799C1371.7 801.1 1374.3 802.6 1377 803.6C1379.7 804.6 1382.3 805 1385 805C1387.7 805 1390.5 804.8 1393 803.6C1395.5 802.4 1397.8 800.6 1400 798C1402.2 795.4 1404.2 791.7 1406 788C1407.8 784.3 1409.2 779.2 1411 776C1412.8 772.8 1414.8 771.2 1417 769C1419.2 766.8 1421.8 765.5 1424 763C1426.2 760.5 1428.2 756.7 1430 754C1431.8 751.3 1433.3 748.5 1435 747C1436.7 745.5 1438.2 745 1440 745C1441.8 745 1443.8 745.5 1446 747C1448.2 748.5 1450.7 751.7 1453 754C1455.3 756.3 1457.8 758 1460 761C1462.2 764 1463.8 768.7 1466 772C1468.2 775.3 1470.5 778.2 1473 781C1475.5 783.8 1478.3 786.5 1481 789C1483.7 791.5 1486.7 794.3 1489 796C1491.3 797.7 1493.2 798.5 1495 799C1496.8 799.5 1498.5 800.2 1500 799C1501.5 797.8 1503 795.8 1504 792C1505 788.2 1505.3 782.3 1506 776C1506.7 769.7 1507.3 760.5 1508 754C1508.7 747.5 1509.3 741 1510 737C1510.7 733 1511.2 731.2 1512 730C1512.8 728.8 1514.2 728.7 1515 730C1515.8 731.3 1516.2 733.7 1517 738C1517.8 742.3 1519 750 1520 756C1521 762 1521.8 768.7 1523 774C1524.2 779.3 1525.5 784.3 1527 788C1528.5 791.7 1530.3 794.2 1532 796C1533.7 797.8 1535.2 798.8 1537 798.6C1538.8 798.4 1541 795.9 1543 795C1545 794.1 1547 793.8 1549 793C1551 792.2 1553 792 1555 790C1557 788 1559.2 783.2 1561 781C1562.8 778.8 1564.3 777.8 1566 777C1567.7 776.2 1569.2 776.3 1571 776.4C1572.8 776.5 1575 776.2 1577 777.6C1579 779 1581 782.9 1583 785C1585 787.1 1587 789.2 1589 790C1591 790.8 1592.3 791.3 1595 790C1597.7 788.7 1602 784.6 1605 782C1608 779.4 1610.3 776.2 1613 774.4C1615.7 772.6 1618.3 771.6 1621 771C1623.7 770.4 1626.3 770.3 1629 770.6C1631.7 770.9 1634.3 771.4 1637 773C1639.7 774.6 1642.3 777 1645 780C1647.7 783 1650.3 787.3 1653 791C1655.7 794.7 1658.3 798.2 1661 802C1663.7 805.8 1666.7 810.5 1669 814C1671.3 817.5 1673.3 821 1675 823C1676.7 825 1677.7 826.2 1679 826C1680.3 825.8 1681.8 825 1683 822C1684.2 819 1685 813.3 1686 808C1687 802.7 1688 795.5 1689 790C1690 784.5 1690.8 778.3 1692 775C1693.2 771.7 1694.7 770.5 1696 770C1697.3 769.5 1698.7 770.2 1700 772C1701.3 773.8 1702.5 777.7 1704 781C1705.5 784.3 1707.3 788.8 1709 792C1710.7 795.2 1712.2 798 1714 800C1715.8 802 1718 803.8 1720 804C1722 804.2 1724.2 802.7 1726 801C1727.8 799.3 1729.5 797.8 1731 794C1732.5 790.2 1733.8 784.7 1735 778C1736.2 771.3 1737 761.7 1738 754C1739 746.3 1739.8 738.7 1741 732C1742.2 725.3 1743.7 718.4 1745 714C1746.3 709.6 1747.8 707.2 1749 705.6C1750.2 704 1751 704 1752 704.4C1753 704.8 1754 705.1 1755 708C1756 710.9 1757 716.3 1758 722C1759 727.7 1759.8 735.3 1761 742C1762.2 748.7 1763.7 755.7 1765 762C1766.3 768.3 1767.7 774.7 1769 780C1770.3 785.3 1771.5 789.8 1773 794C1774.5 798.2 1776.3 801.7 1778 805C1779.7 808.3 1781.3 811.9 1783 814C1784.7 816.1 1786.5 817.6 1788 817.6C1789.5 817.6 1790.8 816.9 1792 814C1793.2 811.1 1794 805.3 1795 800C1796 794.7 1797.2 786.3 1798 782C1798.8 777.7 1799.7 775.3 1800 774"/>
<path stroke="#0f0" d="M191 725.6C196.7 725.6 211.7 725.4 225 725.6C238.3 725.8 257.7 727 271 727C284.3 727 296.3 726 305 725.6C313.7 725.2 317.7 725.2 323 724.4C328.3 723.6 333.3 722.4 337 721C340.7 719.6 342.7 717.8 345 716C347.3 714.2 349.3 712.7 351 710C352.7 707.3 353.5 704 355 700C356.5 696 358.3 689.7 360 686C361.7 682.3 363.2 680.1 365 678C366.8 675.9 369 674.9 371 673.6C373 672.3 374.7 672.1 377 670C379.3 667.9 382.3 665 385 661C387.7 657 390.7 649.5 393 646C395.3 642.5 397 640.2 399 640C401 639.8 403 642.3 405 645C407 647.7 409 652.2 411 656C413 659.8 414.7 664 417 668C419.3 672 422.7 676.7 425 680C427.3 683.3 428.7 685.2 431 688C433.3 690.8 436.3 694.8 439 697C441.7 699.2 444.5 700.8 447 701C449.5 701.2 451.8 700.5 454 698C456.2 695.5 458.2 689.8 460 686C461.8 682.2 463.5 677.4 465 675C466.5 672.6 467.7 671.6 469 671.6C470.3 671.6 471.7 672.6 473 675C474.3 677.4 475.3 682.5 477 686C478.7 689.5 481 693.8 483 696C485 698.2 487 699.2 489 699C491 698.8 493.3 697.5 495 695C496.7 692.5 497.7 689.8 499 684C500.3 678.2 501.7 667 503 660C504.3 653 505.7 645.8 507 642C508.3 638.2 509.7 636.8 511 637C512.3 637.2 513.7 639.8 515 643C516.3 646.2 517.7 653 519 656C520.3 659 521.3 660.7 523 661C524.7 661.3 527.3 657.6 529 657.6C530.7 657.6 531.3 658.3 533 661C534.7 663.7 536.3 669.5 539 674C541.7 678.5 546 684.2 549 688C552 691.8 554 694.5 557 697C560 699.5 563 701 567 703C571 705 576.7 707.2 581 709C585.3 710.8 588.3 712.5 593 713.6C597.7 714.7 604.3 715.2 609 715.6C613.7 716 617.8 716.1 621 716C624.2 715.9 625.8 716 628 715C630.2 714 632.2 712.5 634 710C635.8 707.5 637.5 704 639 700C640.5 696 641.7 691.3 643 686C644.3 680.7 645.8 672.2 647 668C648.2 663.8 648.7 662.5 650 661C651.3 659.5 653.5 658.5 655 659C656.5 659.5 657.7 661.2 659 664C660.3 666.8 661.5 672.7 663 676C664.5 679.3 665.7 681 668 684C670.3 687 673.8 690.7 677 694C680.2 697.3 683.7 701.4 687 704C690.3 706.6 693.7 708.5 697 709.6C700.3 710.7 703.7 710.7 707 710.6C710.3 710.5 713.7 710.6 717 709C720.3 707.4 723.7 704.3 727 701C730.3 697.7 734.7 692.8 737 689C739.3 685.2 739.7 682.8 741 678C742.3 673.2 743.3 665.2 745 660C746.7 654.8 749.2 649.7 751 647C752.8 644.3 754.3 643.7 756 644C757.7 644.3 759.2 646 761 649C762.8 652 765 657.7 767 662C769 666.3 771.3 671.7 773 675C774.7 678.3 775.3 680.2 777 682C778.7 683.8 781 685.6 783 685.6C785 685.6 787 683.5 789 682C791 680.5 793.2 677.5 795 676.4C796.8 675.3 798.3 675.1 800 675.4C801.7 675.7 802.8 676.5 805 678.4C807.2 680.3 810 684.1 813 687C816 689.9 819.7 693.6 823 696C826.3 698.4 830 700.4 833 701.6C836 702.8 838 703.5 841 703.4C844 703.3 847.7 702.6 851 701C854.3 699.4 858 695.8 861 694C864 692.2 866.7 690.7 869 690.4C871.3 690.1 872.7 690.9 875 692.4C877.3 693.9 880.3 697.9 883 699.6C885.7 701.3 887.3 702.2 891 702.6C894.7 703 900.5 701.6 905 702C909.5 702.4 914.3 705.3 918 705C921.7 704.7 924.2 703 927 700C929.8 697 932.8 691.7 935 687C937.2 682.3 938.3 676.8 940 671.6C941.7 666.4 943 659.3 945 656C947 652.7 950 652.3 952 652C954 651.7 955.3 653.1 957 654C958.7 654.9 960.2 657.9 962 657.6C963.8 657.3 966 654.1 968 652C970 649.9 972.2 645.8 974 645C975.8 644.2 977.2 644.7 979 647C980.8 649.3 983 654 985 659C987 664 989 672 991 677C993 682 995 686.3 997 689C999 691.7 1001 693.2 1003 693C1005 692.8 1007 690.7 1009 688C1011 685.3 1013.2 680.2 1015 677C1016.8 673.8 1018.5 670.6 1020 669C1021.5 667.4 1022.5 666.6 1024 667.6C1025.5 668.6 1027.2 671.8 1029 675C1030.8 678.2 1033 684 1035 687C1037 690 1039 691.8 1041 693C1043 694.2 1044.8 694.5 1047 694C1049.2 693.5 1051.8 692.3 1054 690C1056.2 687.7 1058.2 685 1060 680C1061.8 675 1063.2 668 1065 660C1066.8 652 1069 640 1071 632C1073 624 1075 617 1077 612C1079 607 1081 604 1083 602C1085 600 1087.2 599 1089 600C1090.8 601 1092.3 604 1094 608C1095.7 612 1097.2 619 1099 624C1100.8 629 1102.7 634.4 1105 638C1107.3 641.6 1110.7 645.6 1113 645.6C1115.3 645.6 1117.3 642.3 1119 638C1120.7 633.7 1121.5 626.3 1123 620C1124.5 613.7 1126.3 604.6 1128 600C1129.7 595.4 1131.5 593.7 1133 592.4C1134.5 591.1 1135.7 591.1 1137 592.4C1138.3 593.7 1139.5 596.1 1141 600C1142.5 603.9 1144.3 611.7 1146 616C1147.7 620.3 1148.8 622.8 1151 626C1153.2 629.2 1156 630.7 1159 635C1162 639.3 1165.7 646.2 1169 652C1172.3 657.8 1176.2 665.7 1179 670C1181.8 674.3 1184.2 677.3 1186 677.6C1187.8 677.9 1188.8 675.6 1190 672C1191.2 668.4 1192 661.3 1193 656C1194 650.7 1194.8 643.5 1196 640C1197.2 636.5 1198.5 635 1200 635C1201.5 635 1203.2 636.5 1205 640C1206.8 643.5 1209 652 1211 656C1213 660 1214.7 662.3 1217 664C1219.3 665.7 1222.3 665.6 1225 666C1227.7 666.4 1230.3 665.7 1233 666.6C1235.7 667.5 1238 670 1241 671.6C1244 673.2 1247 675.1 1251 676C1255 676.9 1261 677.5 1265 677C1269 676.5 1271.7 675.3 1275 673C1278.3 670.7 1282 665.8 1285 663C1288 660.2 1290.4 657.7 1293 656C1295.6 654.3 1298.5 654.2 1300.8 653C1303.1 651.8 1305.1 649.7 1307 649C1308.9 648.3 1310.3 647.6 1312 648.6C1313.7 649.6 1315.2 652.3 1317 655C1318.8 657.7 1320.7 662.3 1323 665C1325.3 667.7 1328.3 670 1331 671C1333.7 672 1336.3 671.3 1339 671C1341.7 670.7 1343.7 669.5 1347 669.4C1350.3 669.3 1355.3 670.7 1359 670.4C1362.7 670.1 1365.3 667.5 1369 667.4C1372.7 667.3 1376.7 669.4 1381 669.6C1385.3 669.8 1390 668.9 1395 668.4C1400 667.9 1406 666.5 1411 666.6C1416 666.7 1420.7 667.8 1425 669C1429.3 670.2 1433.3 672.4 1437 674C1440.7 675.6 1443.7 677.6 1447 678.6C1450.3 679.6 1453.7 678.6 1457 680C1460.3 681.4 1463.7 685.3 1467 687C1470.3 688.7 1473.7 689.8 1477 690.4C1480.3 691 1483.8 690.4 1487 690.6C1490.2 690.8 1493.5 692 1496 691.6C1498.5 691.2 1500.5 690.9 1502 688C1503.5 685.1 1504.2 679.7 1505 674C1505.8 668.3 1506.2 660.7 1507 654C1507.8 647.3 1509 638.3 1510 634C1511 629.7 1512 628.6 1513 628.4C1514 628.2 1515 629.4 1516 633C1517 636.6 1517.8 644.2 1519 650C1520.2 655.8 1521.3 663 1523 668C1524.7 673 1526.7 677.4 1529 680C1531.3 682.6 1534.3 683.8 1537 683.6C1539.7 683.4 1542.3 681.1 1545 679C1547.7 676.9 1550.3 674.2 1553 671C1555.7 667.8 1558.7 662.4 1561 660C1563.3 657.6 1564.5 657.1 1567 656.4C1569.5 655.7 1573.3 655.2 1576 656C1578.7 656.8 1580.5 659.7 1583 661C1585.5 662.3 1587 664.4 1591 663.6C1595 662.8 1603 657.3 1607 656C1611 654.7 1612.3 655.1 1615 656C1617.7 656.9 1620 659.1 1623 661.6C1626 664.1 1629.3 667.8 1633 671C1636.7 674.2 1641 678 1645 681C1649 684 1653.3 687.1 1657 689C1660.7 690.9 1663.8 691.6 1667 692.4C1670.2 693.2 1673.2 694.1 1676 694C1678.8 693.9 1681.5 692.1 1684 691.6C1686.5 691.1 1688.8 691.7 1691 691C1693.2 690.3 1695.2 688.3 1697 687.6C1698.8 686.9 1700.3 686.4 1702 686.6C1703.7 686.8 1704.8 688.2 1707 689C1709.2 689.8 1712.7 691.4 1715 691.6C1717.3 691.8 1719 691.5 1721 690.4C1723 689.3 1725.2 687.7 1727 685C1728.8 682.3 1730.5 679.2 1732 674C1733.5 668.8 1734.7 662.3 1736 654C1737.3 645.7 1738.7 632.3 1740 624C1741.3 615.7 1742.7 609 1744 604C1745.3 599 1746.7 596.1 1748 594C1749.3 591.9 1750.7 590.9 1752 591.6C1753.3 592.3 1754.7 593.6 1756 598C1757.3 602.4 1758.5 611 1760 618C1761.5 625 1763.3 633.3 1765 640C1766.7 646.7 1768.2 653 1770 658C1771.8 663 1774 666.8 1776 670C1778 673.2 1780 675.4 1782 677C1784 678.6 1786.2 679.7 1788 679.4C1789.8 679.1 1791.5 677.6 1793 675C1794.5 672.4 1795.8 667.3 1797 664C1798.2 660.7 1799.5 656.5 1800 655"/>
</g>
<g fill="#000" shape-rendering="crispEdges">
<rect x="969.8" y="537.9" width="6.2" height="3.1"/>
<rect x="969.8" y="550.4" width="6.2" height="8.4"/>
<rect x="969.8" y="567.9" width="6.2" height="22"/>
<rect x="969.8" y="599.5" width="6.2" height="8.4"/>
<rect x="969.8" y="617.3" width="6.2" height="8.4"/>
<rect x="969.8" y="634.8" width="6.2" height="22"/>
<rect x="969.8" y="666.4" width="6.2" height="8.4"/>
<rect x="969.8" y="684.2" width="6.2" height="8.4"/>
<rect x="969.8" y="701.7" width="6.2" height="22"/>
<rect x="969.8" y="733.3" width="6.2" height="8.4"/>
<rect x="969.8" y="751.1" width="6.2" height="8.4"/>
<rect x="969.8" y="768.6" width="6.2" height="22"/>
<rect x="969.8" y="800.2" width="6.2" height="8.4"/>
<rect x="969.8" y="818" width="6.2" height="8.4"/>
<rect x="969.8" y="835.5" width="6.2" height="22"/>
<rect x="969.8" y="867.1" width="6.2" height="8.4"/>
<rect x="969.8" y="884.9" width="6.2" height="8.4"/>
<rect x="969.8" y="902.4" width="6.2" height="22"/>
<rect x="969.8" y="934" width="6.2" height="8.4"/>
<rect x="969.8" y="951.8" width="6.2" height="8.4"/>
<rect x="969.8" y="969.3" width="6.2" height="22"/>
<rect x="969.8" y="1000.9" width="6.2" height="8.4"/>
<rect x="969.8" y="1018.7" width="6.2" height="8.4"/>
<rect x="969.8" y="1036.2" width="6.2" height="22"/>
<rect x="969.8" y="1067.8" width="6.2" height="8.4"/>
<rect x="969.8" y="1085.6" width="6.2" height="8.4"/>
<rect x="969.8" y="1103.1" width="6.2" height="22"/>
<rect x="969.8" y="1134.7" width="6.2" height="8.4"/>
<rect x="969.8" y="1152.5" width="6.2" height="8.4"/>
<rect x="969.8" y="1170" width="6.2" height="22"/>
<rect x="1514.8" y="462" width="6.2" height="4.1"/>
<rect x="1514.8" y="475.7" width="6.2" height="8.4"/>
<rect x="1514.8" y="493.5" width="6.2" height="8.4"/>
<rect x="1514.8" y="511" width="6.2" height="22"/>
<rect x="1514.8" y="542.6" width="6.2" height="8.4"/>
<rect x="1514.8" y="560.4" width="6.2" height="8.4"/>
<rect x="1514.8" y="577.9" width="6.2" height="22"/>
<rect x="1514.8" y="609.5" width="6.2" height="8.4"/>
<rect x="1514.8" y="627.3" width="6.2" height="8.4"/>
<rect x="1514.8" y="644.8" width="6.2" height="22"/>
<rect x="1514.8" y="676.4" width="6.2" height="8.4"/>
<rect x="1514.8" y="694.2" width="6.2" height="8.4"/>
<rect x="1514.8" y="711.7" width="6.2" height="22"/>
<rect x="1514.8" y="743.3" width="6.2" height="8.4"/>
<rect x="1514.8" y="761.1" width="6.2" height="8.4"/>
<rect x="1514.8" y="778.6" width="6.2" height="22"/>
<rect x="1514.8" y="810.2" width="6.2" height="8.4"/>
<rect x="1514.8" y="828" width="6.2" height="8.4"/>
<rect x="1514.8" y="845.5" width="6.2" height="22"/>
<rect x="1514.8" y="877.1" width="6.2" height="8.4"/>
<rect x="1514.8" y="894.9" width="6.2" height="8.4"/>
<rect x="1514.8" y="912.4" width="6.2" height="22"/>
<rect x="1514.8" y="944" width="6.2" height="8.4"/>
<rect x="1514.8" y="961.8" width="6.2" height="8.4"/>
<rect x="1514.8" y="979.3" width="6.2" height="22"/>
<rect x="1514.8" y="1010.9" width="6.2" height="8.4"/>
<rect x="1514.8" y="1028.7" width="6.2" height="8.4"/>
<rect x="1514.8" y="1046.2" width="6.2" height="22"/>
<rect x="1514.8" y="1077.8" width="6.2" height="8.4"/>
<rect x="1514.8" y="1095.6" width="6.2" height="8.4"/>
<rect x="1514.8" y="1113.1" width="6.2" height="22"/>
<rect x="1514.8" y="1144.7" width="6.2" height="8.4"/>
<rect x="1514.8" y="1162.5" width="6.2" height="8.4"/>
<rect x="1514.8" y="1180" width="6.2" height="22"/>
</g>
<g fill="none" stroke-width="7.8" stroke-linejoin="round" stroke-linecap="butt" clip-path="url(#plot)" shape-rendering="crispEdges">
<path stroke="#f00" d="M191 644.8C195 644.6 206 644.2 215 643.6C224 643 235 642.3 245 641.2C255 640.1 265 639 275 637.2C285 635.4 296.7 632.3 305 630.4C313.3 628.5 317.7 627.7 325 625.6C332.3 623.5 341.3 620.9 349 618C356.7 615.1 365 611.2 371 608C377 604.8 379.7 602.5 385 599C390.3 595.5 398 590 403 587C408 584 411.3 582.8 415 581C418.7 579.2 422.3 578.1 425 576.4C427.7 574.7 428 572.6 431 571C434 569.4 438 567.7 443 567C448 566.3 456 566 461 566.6C466 567.2 468.3 569.4 473 570.4C477.7 571.4 483.7 571.3 489 572.6C494.3 573.9 499.7 575.8 505 578C510.3 580.2 515.7 583 521 586C526.3 589 531 592.4 537 596C543 599.6 551.5 604.7 556.8 607.4C562.1 610.1 564.6 610.9 569 612.4C573.4 613.9 578.3 615.2 583 616.4C587.7 617.6 592.7 618.7 597 619.4C601.3 620.1 605.3 620.6 609 620.6C612.7 620.6 616 620.5 619 619.6C622 618.7 624.5 617.1 627 615C629.5 612.9 631.8 610 634 607C636.2 604 638.2 599.3 640 597C641.8 594.7 643.2 593.7 645 593C646.8 592.3 648.7 592.1 651 592.6C653.3 593.1 656 594.6 659 596C662 597.4 665.3 599.8 669 601C672.7 602.2 677 602.9 681 603.4C685 603.9 689.3 604.2 693 604C696.7 603.8 700 603.4 703 602.4C706 601.4 708.7 600.1 711 598C713.3 595.9 714.7 593.2 717 590C719.3 586.8 722.5 582.1 725 579C727.5 575.9 729.3 573.3 732 571.6C734.7 569.9 737.8 569.2 741 568.6C744.2 568 747.7 567.7 751 568C754.3 568.3 757.5 569.6 761 570.4C764.5 571.2 768.3 573.2 772 573C775.7 572.8 779.5 570.3 783 569C786.5 567.7 790 566 793 565.4C796 564.8 798 564.7 801 565.4C804 566.1 807.3 567.7 811 569.4C814.7 571.1 819 574 823 575.6C827 577.2 831.3 578.4 835 579C838.7 579.6 841.3 579.7 845 579C848.7 578.3 852.7 576.6 857 575C861.3 573.4 866 571.3 871 569.4C876 567.5 882 565.3 887 563.6C892 561.9 897 560 901 559.2C905 558.4 907.7 558.6 911 559C914.3 559.4 918 560.9 921 561.6C924 562.3 925.5 563 928.8 563C932.1 563 937 562 941 561.4C945 560.8 949.3 559.6 953 559.6C956.7 559.6 959.3 560.7 963 561.6C966.7 562.5 970.7 564.1 975 565C979.3 565.9 983.3 566.5 989 567C994.7 567.5 1003 568.2 1009 568C1015 567.8 1019.7 566.2 1025 566C1030.3 565.8 1035.3 566.8 1041 567C1046.7 567.2 1054.3 567.7 1059 567C1063.7 566.3 1065.7 564.6 1069 563C1072.3 561.4 1075.7 558.7 1079 557.6C1082.3 556.5 1085.3 556 1089 556.4C1092.7 556.8 1097 559.1 1101 560C1105 560.9 1109 562 1113 562C1117 562 1121.3 560.6 1125 560C1128.7 559.4 1131.7 558.6 1135 558.6C1138.3 558.6 1141.7 558.6 1145 560C1148.3 561.4 1151.3 564 1155 567C1158.7 570 1163 574.8 1167 578C1171 581.2 1175.3 584.1 1179 586C1182.7 587.9 1186 589.1 1189 589.4C1192 589.7 1194.3 589.6 1197 588C1199.7 586.4 1202 584.7 1205 580C1208 575.3 1211.7 566.3 1215 560C1218.3 553.7 1222 546.1 1225 542C1228 537.9 1230.3 536.6 1233 535.6C1235.7 534.6 1238.3 534.9 1241 536C1243.7 537.1 1246 540.5 1249 542C1252 543.5 1255.7 545.2 1259 545C1262.3 544.8 1265.7 543.8 1269 541C1272.3 538.2 1275.7 532.7 1279 528C1282.3 523.3 1285.4 516.8 1289 513C1292.6 509.2 1297.5 506.6 1300.8 505C1304.1 503.4 1306.5 503.5 1309 503.6C1311.5 503.7 1313.7 504.9 1316 505.6C1318.3 506.3 1320.5 508.3 1323 508C1325.5 507.7 1328.3 505.3 1331 504C1333.7 502.7 1336.5 500.7 1339 500C1341.5 499.3 1343.7 499.6 1346 499.6C1348.3 499.6 1350.5 500.9 1353 500C1355.5 499.1 1358.3 497 1361 494C1363.7 491 1366 486.3 1369 482C1372 477.7 1376 472.8 1379 468C1382 463.2 1384.3 458.2 1387 453C1389.7 447.8 1392.3 441.7 1395 437C1397.7 432.3 1400.5 428 1403 425C1405.5 422 1407.7 420 1410 419C1412.3 418 1414.7 417.8 1417 419C1419.3 420.2 1421.7 423.2 1424 426C1426.3 428.8 1428.8 432.8 1431 436C1433.2 439.2 1435 442.5 1437 445C1439 447.5 1440.7 449.7 1443 451C1445.3 452.3 1448.5 452 1451 453C1453.5 454 1455.8 454.7 1458 457C1460.2 459.3 1462 462.8 1464 467C1466 471.2 1468 476.7 1470 482C1472 487.3 1474 494.2 1476 499C1478 503.8 1480 508 1482 511C1484 514 1486 515.8 1488 517C1490 518.2 1491.8 518.4 1494 518C1496.2 517.6 1498.5 515.9 1501 514.4C1503.5 512.9 1506.5 510.4 1509 509C1511.5 507.6 1513.7 506.3 1516 506C1518.3 505.7 1520.8 505.9 1523 507.4C1525.2 508.9 1527 512.1 1529 515C1531 517.9 1532.7 522 1535 525C1537.3 528 1540 531 1543 533C1546 535 1550 536.1 1553 537C1556 537.9 1558 538.7 1561 538.4C1564 538.1 1567.8 536.2 1571 535.4C1574.2 534.6 1577.2 533.5 1580 533.6C1582.8 533.7 1585.2 534.5 1588 536C1590.8 537.5 1594.5 540.6 1597 542.4C1599.5 544.2 1600.7 545.9 1603 547C1605.3 548.1 1608.3 548.7 1611 549C1613.7 549.3 1616.3 549.3 1619 548.6C1621.7 547.9 1624.3 546.8 1627 545C1629.7 543.2 1632.7 540.1 1635 538C1637.3 535.9 1639.2 533.5 1641 532.4C1642.8 531.3 1644.3 531.2 1646 531.6C1647.7 532 1648.8 533.3 1651 535C1653.2 536.7 1656.3 540.2 1659 542C1661.7 543.8 1664 545 1667 546C1670 547 1673.7 547.7 1677 548C1680.3 548.3 1683.3 548.3 1687 548C1690.7 547.7 1695 546.8 1699 546C1703 545.2 1707 544.6 1711 543.4C1715 542.2 1719.3 540.7 1723 539C1726.7 537.3 1730 534.9 1733 533C1736 531.1 1738.3 528.7 1741 527.4C1743.7 526.1 1746 525.6 1749 525C1752 524.4 1755.3 524.6 1759 524C1762.7 523.4 1767.3 522.5 1771 521.6C1774.7 520.7 1777.7 519.7 1781 518.4C1784.3 517.1 1787.8 515.2 1791 514C1794.2 512.8 1798.5 511.5 1800 511"/>
</g>
<g fill="#000" shape-rendering="crispEdges">
<rect x="516.8" y="512" width="5.2" height="2"/>
<rect x="516.8" y="523.4" width="5.2" height="8.4"/>
<rect x="516.8" y="540.9" width="5.2" height="22"/>
<rect x="516.8" y="572.5" width="5.2" height="8.4"/>
<rect x="516.8" y="590.3" width="5.2" height="8.4"/>
<rect x="516.8" y="607.8" width="5.2" height="22"/>
<rect x="516.8" y="639.4" width="5.2" height="8.4"/>
<rect x="516.8" y="657.2" width="5.2" height="8.4"/>
<rect x="516.8" y="674.7" width="5.2" height="22"/>
<rect x="516.8" y="706.3" width="5.2" height="8.4"/>
<rect x="516.8" y="724.1" width="5.2" height="8.4"/>
<rect x="516.8" y="741.6" width="5.2" height="22"/>
<rect x="516.8" y="773.2" width="5.2" height="8.4"/>
<rect x="516.8" y="791" width="5.2" height="8.4"/>
<rect x="516.8" y="808.5" width="5.2" height="22"/>
<rect x="516.8" y="840.1" width="5.2" height="8.4"/>
<rect x="516.8" y="857.9" width="5.2" height="8.4"/>
<rect x="516.8" y="875.4" width="5.2" height="22"/>
<rect x="516.8" y="907" width="5.2" height="8.4"/>
<rect x="516.8" y="924.8" width="5.2" height="8.4"/>
<rect x="516.8" y="942.3" width="5.2" height="22"/>
<rect x="516.8" y="973.9" width="5.2" height="8.4"/>
<rect x="516.8" y="991.7" width="5.2" height="8.4"/>
<rect x="516.8" y="1009.2" width="5.2" height="22"/>
<rect x="516.8" y="1040.8" width="5.2" height="8.4"/>
<rect x="516.8" y="1058.6" width="5.2" height="8.4"/>
<rect x="516.8" y="1076.1" width="5.2" height="22"/>
<rect x="516.8" y="1107.7" width="5.2" height="8.4"/>
<rect x="516.8" y="1125.5" width="5.2" height="8.4"/>
<rect x="516.8" y="1143" width="5.2" height="22"/>
<rect x="649.8" y="507" width="6.2" height="2.6"/>
<rect x="649.8" y="519" width="6.2" height="8.4"/>
<rect x="649.8" y="536.5" width="6.2" height="22"/>
<rect x="649.8" y="568.1" width="6.2" height="8.4"/>
<rect x="649.8" y="585.9" width="6.2" height="8.4"/>
<rect x="649.8" y="603.4" width="6.2" height="22"/>
<rect x="649.8" y="635" width="6.2" height="8.4"/>
<rect x="649.8" y="652.8" width="6.2" height="8.4"/>
<rect x="649.8" y="670.3" width="6.2" height="22"/>
<rect x="649.8" y="701.9" width="6.2" height="8.4"/>
<rect x="649.8" y="719.7" width="6.2" height="8.4"/>
<rect x="649.8" y="737.2" width="6.2" height="22"/>
<rect x="649.8" y="768.8" width="6.2" height="8.4"/>
<rect x="649.8" y="786.6" width="6.2" height="8.4"/>
<rect x="649.8" y="804.1" width="6.2" height="22"/>
<rect x="649.8" y="835.7" width="6.2" height="8.4"/>
<rect x="649.8" y="853.5" width="6.2" height="8.4"/>
<rect x="649.8" y="871" width="6.2" height="22"/>
<rect x="649.8" y="902.6" width="6.2" height="8.4"/>
<rect x="649.8" y="920.4" width="6.2" height="8.4"/>
<rect x="649.8" y="937.9" width="6.2" height="22"/>
<rect x="649.8" y="969.5" width="6.2" height="8.4"/>
<rect x="649.8" y="987.3" width="6.2" height="8.4"/>
<rect x="649.8" y="1004.8" width="6.2" height="22"/>
<rect x="649.8" y="1036.4" width="6.2" height="8.4"/>
<rect x="649.8" y="1054.2" width="6.2" height="8.4"/>
<rect x="649.8" y="1071.7" width="6.2" height="22"/>
<rect x="649.8" y="1103.3" width="6.2" height="8.4"/>
<rect x="649.8" y="1121.1" width="6.2" height="8.4"/>
<rect x="649.8" y="1138.6" width="6.2" height="22"/>
<rect x="1078.7" y="431.6" width="6.2" height="2.4"/>
<rect x="1078.7" y="443.4" width="6.2" height="8.4"/>
<rect x="1078.7" y="460.9" width="6.2" height="22"/>
<rect x="1078.7" y="492.5" width="6.2" height="8.4"/>
<rect x="1078.7" y="510.3" width="6.2" height="8.4"/>
<rect x="1078.7" y="527.8" width="6.2" height="22"/>
<rect x="1078.7" y="559.4" width="6.2" height="8.4"/>
<rect x="1078.7" y="577.2" width="6.2" height="8.4"/>
<rect x="1078.7" y="594.7" width="6.2" height="22"/>
<rect x="1078.7" y="626.3" width="6.2" height="8.4"/>
<rect x="1078.7" y="644.1" width="6.2" height="8.4"/>
<rect x="1078.7" y="661.6" width="6.2" height="22"/>
<rect x="1078.7" y="693.2" width="6.2" height="8.4"/>
<rect x="1078.7" y="711" width="6.2" height="8.4"/>
<rect x="1078.7" y="728.5" width="6.2" height="22"/>
<rect x="1078.7" y="760.1" width="6.2" height="8.4"/>
<rect x="1078.7" y="777.9" width="6.2" height="8.4"/>
<rect x="1078.7" y="795.4" width="6.2" height="22"/>
<rect x="1078.7" y="827" width="6.2" height="8.4"/>
<rect x="1078.7" y="844.8" width="6.2" height="8.4"/>
<rect x="1078.7" y="862.3" width="6.2" height="22"/>
<rect x="1078.7" y="893.9" width="6.2" height="8.4"/>
<rect x="1078.7" y="911.7" width="6.2" height="8.4"/>
<rect x="1078.7" y="929.2" width="6.2" height="22"/>
<rect x="1078.7" y="960.8" width="6.2" height="8.4"/>
<rect x="1078.7" y="978.6" width="6.2" height="8.4"/>
<rect x="1078.7" y="996.1" width="6.2" height="22"/>
<rect x="1078.7" y="1027.7" width="6.2" height="8.4"/>
<rect x="1078.7" y="1045.5" width="6.2" height="8.4"/>
<rect x="1078.7" y="1063" width="6.2" height="22"/>
<rect x="1133.1" y="496" width="6" height="2"/>
<rect x="1133.1" y="507.4" width="6" height="8.4"/>
<rect x="1133.1" y="524.9" width="6" height="22"/>
<rect x="1133.1" y="556.5" width="6" height="8.4"/>
<rect x="1133.1" y="574.3" width="6" height="8.4"/>
<rect x="1133.1" y="591.8" width="6" height="22"/>
<rect x="1133.1" y="623.4" width="6" height="8.4"/>
<rect x="1133.1" y="641.2" width="6" height="8.4"/>
<rect x="1133.1" y="658.7" width="6" height="22"/>
<rect x="1133.1" y="690.3" width="6" height="8.4"/>
<rect x="1133.1" y="708.1" width="6" height="8.4"/>
<rect x="1133.1" y="725.6" width="6" height="22"/>
<rect x="1133.1" y="757.2" width="6" height="8.4"/>
<rect x="1133.1" y="775" width="6" height="8.4"/>
<rect x="1133.1" y="792.5" width="6" height="22"/>
<rect x="1133.1" y="824.1" width="6" height="8.4"/>
<rect x="1133.1" y="841.9" width="6" height="8.4"/>
<rect x="1133.1" y="859.4" width="6" height="22"/>
<rect x="1133.1" y="891" width="6" height="8.4"/>
<rect x="1133.1" y="908.8" width="6" height="8.4"/>
<rect x="1133.1" y="926.3" width="6" height="22"/>
<rect x="1133.1" y="957.9" width="6" height="8.4"/>
<rect x="1133.1" y="975.7" width="6" height="8.4"/>
<rect x="1133.1" y="993.2" width="6" height="22"/>
<rect x="1133.1" y="1024.8" width="6" height="8.4"/>
<rect x="1133.1" y="1042.6" width="6" height="8.4"/>
<rect x="1133.1" y="1060.1" width="6" height="22"/>
<rect x="1133.1" y="1091.7" width="6" height="8.4"/>
<rect x="1133.1" y="1109.5" width="6" height="8.4"/>
<rect x="1133.1" y="1127" width="6" height="22"/>
<rect x="1748.8" y="391" width="6.2" height="8"/>
<rect x="1748.8" y="408.1" width="6.2" height="22"/>
<rect x="1748.8" y="439.7" width="6.2" height="8.4"/>
<rect x="1748.8" y="457.5" width="6.2" height="8.4"/>
<rect x="1748.8" y="475" width="6.2" height="22"/>
<rect x="1748.8" y="506.6" width="6.2" height="8.4"/>
<rect x="1748.8" y="524.4" width="6.2" height="8.4"/>
<rect x="1748.8" y="541.9" width="6.2" height="22"/>
<rect x="1748.8" y="573.5" width="6.2" height="8.4"/>
<rect x="1748.8" y="591.3" width="6.2" height="8.4"/>
<rect x="1748.8" y="608.8" width="6.2" height="22"/>
<rect x="1748.8" y="640.4" width="6.2" height="8.4"/>
<rect x="1748.8" y="658.2" width="6.2" height="8.4"/>
<rect x="1748.8" y="675.7" width="6.2" height="22"/>
<rect x="1748.8" y="707.3" width="6.2" height="8.4"/>
<rect x="1748.8" y="725.1" width="6.2" height="8.4"/>
<rect x="1748.8" y="742.6" width="6.2" height="22"/>
<rect x="1748.8" y="774.2" width="6.2" height="8.4"/>
<rect x="1748.8" y="792" width="6.2" height="8.4"/>
<rect x="1748.8" y="809.5" width="6.2" height="22"/>
<rect x="1748.8" y="841.1" width="6.2" height="8.4"/>
<rect x="1748.8" y="858.9" width="6.2" height="8.4"/>
<rect x="1748.8" y="876.4" width="6.2" height="22"/>
<rect x="1748.8" y="908" width="6.2" height="8.4"/>
<rect x="1748.8" y="925.8" width="6.2" height="8.4"/>
<rect x="1748.8" y="943.3" width="6.2" height="22"/>
<rect x="1748.8" y="974.9" width="6.2" height="8.4"/>
<rect x="1748.8" y="992.7" width="6.2" height="8.4"/>
<rect x="1748.8" y="1010.2" width="6.2" height="22"/>
<rect x="1748.8" y="1041.8" width="6.2" height="8.4"/>
<rect x="1748.8" y="1059.6" width="6.2" height="8.4"/>
<rect x="1748.8" y="1077.1" width="6.2" height="22"/>
<rect x="1748.8" y="1108.7" width="6.2" height="8.4"/>
<rect x="1748.8" y="1126.5" width="6.2" height="8.4"/>
<rect x="1748.8" y="1144" width="6.2" height="22"/>
</g>
<rect x="240" y="54" width="363" height="309" fill="#fff" stroke="#000" stroke-width="2" shape-rendering="crispEdges"/>
<rect x="243" y="84" width="116" height="8" rx="2" ry="2" fill="#f00" shape-rendering="crispEdges"/>
<text transform="translate(370.5 103.6) scale(1 1.042)" font-size="48.5">E = 0</text>
<rect x="243" y="144" width="116" height="8" rx="2" ry="2" fill="#0f0" shape-rendering="crispEdges"/>
<text transform="translate(370.5 164.4) scale(1 1.042)" font-size="48.5">E = 25</text>
<rect x="243" y="205" width="116" height="8" rx="2" ry="2" fill="#00f" shape-rendering="crispEdges"/>
<text transform="translate(370.5 224.6) scale(1 1.042)" font-size="48.5">E = 50</text>
<rect x="243" y="265" width="116" height="8" rx="2" ry="2" fill="#f0f" shape-rendering="crispEdges"/>
<text transform="translate(370.5 284.8) scale(1 1.042)" font-size="48.5">E = 75</text>
<rect x="243" y="325" width="116" height="8" rx="2" ry="2" fill="#000" shape-rendering="crispEdges"/>
<text transform="translate(370.5 345) scale(1 1.042)" font-size="48.5">Oligolignin</text>
<text transform="translate(192.8 1407.1) scale(1 1.042)" font-size="53.5" text-anchor="middle">1800</text>
<text transform="translate(514.4 1407.1) scale(1 1.042)" font-size="53.5" text-anchor="middle">1600</text>
<text transform="translate(836 1407.1) scale(1 1.042)" font-size="53.5" text-anchor="middle">1400</text>
<text transform="translate(1157.6 1407.1) scale(1 1.042)" font-size="53.5" text-anchor="middle">1200</text>
<text transform="translate(1479.2 1407.1) scale(1 1.042)" font-size="53.5" text-anchor="middle">1000</text>
<text transform="translate(1800.8 1407.1) scale(1 1.042)" font-size="53.5" text-anchor="middle">800</text>
<text transform="translate(710.6 1520.7) scale(1 1.045)" font-size="67">wavenumber / cm<tspan font-size="44" dy="-26.2">-1</tspan></text>
<text transform="translate(72.9 760) rotate(-90) scale(1 1.045)" font-size="67">Intensity</text>
<text transform="translate(361 481.4) scale(1 1.042)" font-size="42">1595 cm<tspan font-size="27.6" dy="-16.9">-1</tspan></text>
<text transform="translate(580 481.4) scale(1 1.042)" font-size="42">1515 cm<tspan font-size="27.6" dy="-16.9">-1</tspan></text>
<text transform="translate(854.8 519.9) scale(1 1.042)" font-size="42">1310 cm<tspan font-size="27.6" dy="-16.9">-1</tspan></text>
<text transform="translate(944.4 406.8) scale(1 1.042)" font-size="42">1240 cm<tspan font-size="27.6" dy="-16.9">-1</tspan></text>
<text transform="translate(1108.9 470.4) scale(1 1.042)" font-size="42">1215 cm<tspan font-size="27.6" dy="-16.9">-1</tspan></text>
<text transform="translate(1509.3 443.5) scale(1 1.042)" font-size="42">980 cm<tspan font-size="27.6" dy="-16.9">-1</tspan></text>
<text transform="translate(1592.2 360.1) scale(1 1.042)" font-size="42">830 cm<tspan font-size="27.6" dy="-16.9">-1</tspan></text>
</svg>
</body>
</html>
